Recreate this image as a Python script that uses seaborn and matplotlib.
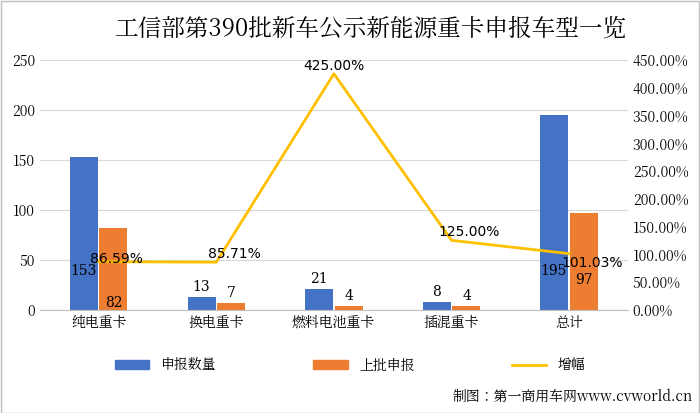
import matplotlib
matplotlib.use("Agg")
import matplotlib.pyplot as plt
from matplotlib import font_manager as fm
import seaborn as sns
import pandas as pd
import numpy as np

cjk = [f for f in fm.findSystemFonts() if "CJK" in f or "cjk" in f.lower()]
pref = [f for f in cjk if "Regular" in f] or cjk
if pref:
    fm.fontManager.addfont(pref[0])
    fam = fm.FontProperties(fname=pref[0]).get_name()
else:
    fam = "Noto Sans CJK SC"
plt.rcParams["font.family"] = [fam, "DejaVu Sans"]

categories = ["纯电重卡", "换电重卡", "燃料电池重卡", "插混重卡", "总计"]
applied = [153, 13, 21, 8, 195]
previous = [82, 7, 4, 4, 97]
growth = [86.59, 85.71, 425.00, 125.00, 101.03]
growth_labels = ["86.59%", "85.71%", "425.00%", "125.00%", "101.03%"]

df = pd.DataFrame({"cat": categories * 2,
                   "val": applied + previous,
                   "series": ["申报数量"] * 5 + ["上批申报"] * 5})

fig = plt.figure(figsize=(7, 4.13), dpi=100)
ax = fig.add_axes([0.057, 0.25, 0.84, 0.605])
sns.barplot(data=df, x="cat", y="val", hue="series", palette=["#4472C4", "#ED7D31"],
            width=0.5, gap=0.05, saturation=1, ax=ax, legend=False)
ax.set_ylim(0, 250)
ax.set_yticks(range(0, 251, 50))
ax.set_xlabel(""); ax.set_ylabel("")
ax.grid(axis="y", color="#d9d9d9", lw=0.8)
ax.set_axisbelow(True)
for s in ["top", "right", "left"]:
    ax.spines[s].set_visible(False)
ax.spines["bottom"].set_color("#bfbfbf")
ax.tick_params(length=0, labelsize=10)

x = np.arange(5)
for i in range(5):
    ya = applied[i] + 3 if applied[i] < 30 else 32
    yp = previous[i] + 3 if previous[i] < 30 else (0 if i == 0 else 23)
    ax.text(i - 0.13, ya, str(applied[i]), ha="center", va="bottom", fontsize=10, family="DejaVu Serif")
    ax.text(i + 0.13, yp, str(previous[i]), ha="center", va="bottom", fontsize=10, family="DejaVu Serif")

ax2 = ax.twinx()
sns.lineplot(x=x, y=growth, color="#FFC000", lw=2, ax=ax2)
ax2.set_ylim(0, 450)
ax2.set_yticks(range(0, 451, 50))
ax2.set_yticklabels([f"{v:.2f}%" for v in range(0, 451, 50)])
ax2.tick_params(length=0, labelsize=10)
for s in ax2.spines.values():
    s.set_visible(False)
offs = [(0.15, -8), (0.15, 2), (0, 2), (0.15, 2), (0.2, -30)]
for i in range(5):
    ax2.text(i + offs[i][0], growth[i] + offs[i][1], growth_labels[i], ha="center", va="bottom",
             fontsize=10, family="DejaVu Sans")
ax.set_xlim(-0.5, 4.5)

fig.text(0.53, 0.93, "工信部第390批新车公示新能源重卡申报车型一览", ha="center", va="center", fontsize=17)
from matplotlib.patches import Patch
from matplotlib.lines import Line2D
handles = [Patch(color="#4472C4"), Patch(color="#ED7D31"), Line2D([], [], color="#FFC000", lw=2)]
fig.legend(handles, ["申报数量", "上批申报", "增幅"], loc="center", bbox_to_anchor=(0.5, 0.115),
           ncol=3, frameon=False, fontsize=10, columnspacing=7, handlelength=2.5)
fig.text(0.99, 0.03, "制图：第一商用车网www.cvworld.cn", ha="right", fontsize=10)
fig.patches.append(plt.Rectangle((0.001, 0.001), 0.997, 0.997, transform=fig.transFigure,
                                 fill=False, edgecolor="#bfbfbf", lw=1))
fig.savefig("out.png", dpi=100)
